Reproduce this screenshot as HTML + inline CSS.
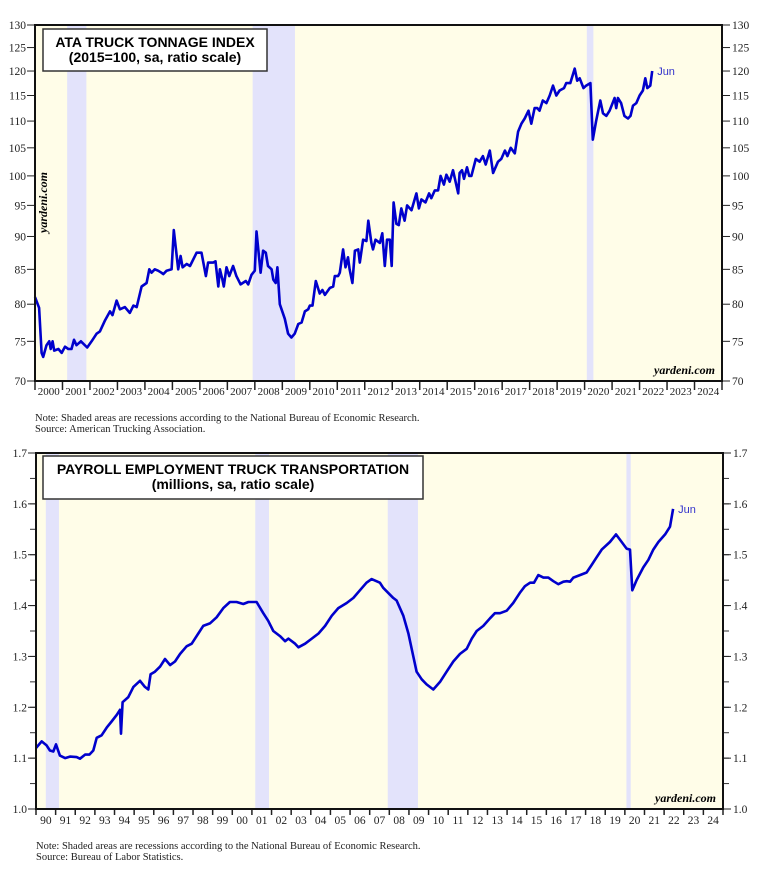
<!DOCTYPE html>
<html><head><meta charset="utf-8">
<style>
body{margin:0;background:#fff;}
svg{display:block;}
text{font-family:"Liberation Serif",serif;}
.ttl{font-family:"Liberation Sans",sans-serif;font-weight:bold;font-size:14px;}
.jun{font-family:"Liberation Sans",sans-serif;}
</style></head>
<body>
<svg id="svg" width="762" height="871" viewBox="0 0 762 871"></svg>
<script>
// ---- ATA truck tonnage (years since 2000, index value)
const ataYears=[0,0.15,0.24,0.3,0.42,0.52,0.57,0.64,0.7,0.85,0.97,1.09,1.21,1.33,1.42,1.51,1.67,1.9,2.06,2.24,2.36,2.55,2.73,2.82,2.97,3.09,3.27,3.45,3.58,3.7,3.88,4.06,4.16,4.24,4.36,4.48,4.6,4.67,4.79,4.97,5.05,5.21,5.3,5.37,5.52,5.64,5.88,6.06,6.22,6.3,6.48,6.57,6.67,6.73,6.82,6.87,6.97,7.07,7.21,7.33,7.48,7.67,7.76,7.88,8.0,8.06,8.21,8.3,8.4,8.48,8.61,8.67,8.76,8.82,8.91,9.09,9.21,9.33,9.45,9.58,9.7,9.82,9.94,10.0,10.1,10.22,10.36,10.46,10.55,10.73,10.85,10.91,11.03,11.09,11.21,11.3,11.39,11.45,11.55,11.64,11.76,11.82,11.94,12.06,12.13,12.24,12.3,12.39,12.55,12.64,12.73,12.81,12.91,12.98,13.05,13.15,13.24,13.33,13.45,13.54,13.7,13.88,13.97,14.06,14.21,14.34,14.42,14.55,14.67,14.76,14.88,14.97,15.09,15.21,15.4,15.45,15.54,15.61,15.72,15.8,15.88,16.04,16.18,16.3,16.4,16.55,16.67,16.85,16.97,17.1,17.19,17.31,17.46,17.58,17.7,17.82,17.96,18.06,18.18,18.28,18.36,18.48,18.61,18.73,18.85,18.97,19.09,19.25,19.33,19.48,19.64,19.73,19.82,19.96,20.06,20.21,20.3,20.42,20.57,20.67,20.79,20.91,21.09,21.15,21.21,21.33,21.45,21.58,21.67,21.76,21.88,22.0,22.12,22.21,22.28,22.39,22.46];
const ataValues=[81,79.5,73.5,73,74.5,75,74,75,73.8,74,73.5,74.3,74,74,75.2,74.5,75,74.2,75,76,76.3,77.8,79,78.5,80.5,79.3,79.6,78.8,79.8,79.6,82.5,83,85,84.5,85,84.8,84.5,84.3,84.8,85,91,85,87,85.3,85.8,85.5,87.5,87.5,84,86,86,86.2,82.5,85,83.5,82.5,85.3,84,85.5,84,82.8,83.3,82.8,84.2,84.8,90.8,84.5,87.8,87.5,85.5,85,83.5,83,85.3,80,78,76,75.5,76,77.3,77.5,79,79.3,79.8,79.8,83.3,81.5,82,81.3,82.3,82.5,84,84,84.5,88,85.3,86.8,85,83,87.8,88,86,89.5,89.3,92.5,89,88,89.5,89,90.5,85.5,89.5,89.5,85.5,95.5,92,91.8,94.5,92.5,95,94.2,97,94.5,96,95.5,97,96.2,97.5,97.5,100,98.5,100.2,99,101,97,100.5,101,99.5,101.5,100,100,103,102.5,103.5,102,104.5,100.5,102.5,103,104.5,103.5,105,104,108,109.5,110.5,112,109.5,112.5,112.5,112,114,113.5,115,117,115,116,116.5,117.5,117.5,120.5,118,118.5,116.5,117,117.5,106.5,110,114,111.5,111,112,114.5,112.5,114.5,113.5,111,110.5,111,113,113.5,115,116,118.5,116.5,117,120];
const ataTicks=[70,75,80,85,90,95,100,105,110,115,120,125,130];
const ataYearLabels=["2000","2001","2002","2003","2004","2005","2006","2007","2008","2009","2010","2011","2012","2013","2014","2015","2016","2017","2018","2019","2020","2021","2022","2023","2024"];
const ataRecessions=[[1.17,1.87],[7.92,9.46],[20.08,20.32]];
// ---- Payroll employment (years since 1990, millions)
const payYears=[0,0.29,0.54,0.71,0.88,1.02,1.22,1.48,1.73,2.07,2.24,2.5,2.72,2.92,3.09,3.34,3.6,3.85,4.11,4.28,4.33,4.41,4.7,4.96,5.3,5.55,5.72,5.84,6.06,6.32,6.57,6.83,7.08,7.34,7.67,7.93,8.27,8.52,8.86,9.2,9.54,9.88,10.22,10.56,10.82,11.24,11.58,11.83,12.09,12.43,12.69,12.86,13.2,13.37,13.71,14.05,14.39,14.73,15.07,15.4,15.83,16.17,16.5,16.84,17.1,17.52,17.69,18.2,18.37,18.71,18.97,19.22,19.39,19.65,19.9,20.24,20.58,20.92,21.26,21.6,21.94,22.2,22.45,22.79,23.13,23.38,23.64,23.98,24.31,24.65,24.91,25.17,25.37,25.59,25.85,26.1,26.36,26.61,26.87,27.04,27.21,27.38,27.71,28.05,28.31,28.56,28.82,29.24,29.55,29.84,30.09,30.26,30.38,30.6,30.94,31.2,31.45,31.71,32.05,32.3,32.46];
const payValues=[1.12,1.133,1.125,1.115,1.113,1.127,1.105,1.1,1.103,1.102,1.099,1.107,1.107,1.115,1.14,1.145,1.16,1.172,1.185,1.195,1.148,1.21,1.22,1.24,1.252,1.24,1.235,1.265,1.27,1.28,1.295,1.283,1.29,1.305,1.32,1.325,1.345,1.36,1.365,1.377,1.395,1.407,1.407,1.403,1.407,1.407,1.385,1.37,1.35,1.34,1.33,1.335,1.325,1.318,1.325,1.335,1.345,1.36,1.38,1.395,1.405,1.415,1.43,1.445,1.452,1.445,1.435,1.415,1.41,1.38,1.345,1.3,1.27,1.255,1.245,1.235,1.25,1.27,1.29,1.305,1.315,1.335,1.35,1.36,1.375,1.385,1.385,1.39,1.405,1.425,1.438,1.445,1.445,1.46,1.455,1.455,1.448,1.442,1.447,1.448,1.447,1.455,1.46,1.465,1.48,1.495,1.51,1.525,1.54,1.525,1.512,1.51,1.43,1.45,1.475,1.49,1.51,1.525,1.54,1.555,1.59];
const payTicks=[1.0,1.1,1.2,1.3,1.4,1.5,1.6,1.7];
const payYearLabels=["90","91","92","93","94","95","96","97","98","99","00","01","02","03","04","05","06","07","08","09","10","11","12","13","14","15","16","17","18","19","20","21","22","23","24"];
const payRecessions=[[0.5,1.17],[11.17,11.87],[17.92,19.46],[30.08,30.3]];

const svg=document.getElementById('svg');
const NS='http://www.w3.org/2000/svg';
function mk(tag,attrs,parent,txt){const e=document.createElementNS(NS,tag);for(const k in attrs)e.setAttribute(k,attrs[k]);if(txt!==undefined)e.textContent=txt;(parent||svg).appendChild(e);return e;}

function chart(cfg){
  const g=mk('g',{});
  
  
  const {L,R,T,B}=cfg;
  const nY=cfg.yearLabels.length, pxy=(R-L)/nY;
  const X=y=>L+y*pxy;
  const Y=cfg.Y;
  const bg=mk('rect',{x:L,y:T,width:R-L,height:B-T,fill:'#fffde8'},g);
  
  
  cfg.recessions.forEach(r=>{
    const e=mk('rect',{x:X(r[0]),y:T,width:X(r[1])-X(r[0]),height:B-T,fill:'#e3e3fb'},g);
    
    
  });
  cfg.minor.forEach(v=>{
    mk('line',{x1:L-6,x2:L,y1:Y(v),y2:Y(v),stroke:'#333','stroke-width':1},g);
    mk('line',{x1:R,x2:R+6,y1:Y(v),y2:Y(v),stroke:'#333','stroke-width':1},g);
  });
  cfg.ticks.forEach(v=>{
    const y=Y(v);
    mk('line',{x1:L-8,x2:L,y1:y,y2:y,stroke:'#222','stroke-width':1},g);
    mk('line',{x1:R,x2:R+8,y1:y,y2:y,stroke:'#222','stroke-width':1},g);
    const lab=cfg.fmt(v);
    const t1=mk('text',{x:L-9,y:y+4,'text-anchor':'end','font-size':11.5,fill:'#222'},g,lab);
    
    
    const t2=mk('text',{x:R+10,y:y+4,'font-size':11.5,fill:'#222'},g,lab);
    
    
  });
  for(let i=0;i<=nY;i++){
    mk('line',{x1:X(i),x2:X(i),y1:B,y2:B+cfg.xtl,stroke:'#222','stroke-width':1.5},g);
  }
  cfg.yearLabels.forEach((s,i)=>{
    const t=mk('text',{x:X(i+0.5),y:cfg.xly,'text-anchor':'middle','font-size':cfg.xfs,fill:'#222'},g,s);
    
    
  });
  const d=cfg.xs.map((x,i)=>(i?'L':'M')+X(x).toFixed(1)+','+Y(cfg.vs[i]).toFixed(1)).join('');
  const p=mk('path',{d:d,fill:'none',stroke:'#0000cc','stroke-width':2.6,'stroke-linejoin':'round'},g);
  
  
  const last=cfg.xs.length-1;
  const j=mk('text',{x:X(cfg.xs[last])+5,y:Y(cfg.vs[last])+4,'font-size':11,fill:'#3333cc',class:'jun'},g,'Jun');
  
  
  const fr=mk('rect',{x:L,y:T,width:R-L,height:B-T,fill:'none',stroke:'#111','stroke-width':2},g);
  
  
  const tb=mk('g',{},g);
  
  
  mk('rect',{x:cfg.tb[0],y:cfg.tb[1],width:cfg.tb[2],height:cfg.tb[3],fill:'#fff',stroke:'#333','stroke-width':1.5},tb);
  const cx=cfg.tb[0]+cfg.tb[2]/2;
  mk('text',{x:cx,y:cfg.tb[1]+18,'text-anchor':'middle',class:'ttl'},tb,cfg.title1);
  mk('text',{x:cx,y:cfg.tb[1]+33,'text-anchor':'middle',class:'ttl'},tb,cfg.title2);
  const yd=mk('text',{x:R-7,y:B-7,'text-anchor':'end','font-size':12,'font-style':'italic','font-weight':'bold'},g,'yardeni.com');
  
  
  const n1=mk('text',{x:L,y:cfg.noteY,'font-size':10.5,fill:'#222'},g,'Note: Shaded areas are recessions according to the National Bureau of Economic Research.');
  
  
  const n2=mk('text',{x:L,y:cfg.noteY+11,'font-size':10.5,fill:'#222'},g,cfg.source);
  
  
  return g;
}

const aT=25,aB=381;
chart({name:'ata-truck-tonnage-chart',L:35,R:722,T:aT,B:aB,
  Y:v=>aB-(Math.log(v/70)/Math.log(130/70))*(aB-aT),
  ticks:ataTicks,minor:[],fmt:v=>String(v),yearLabels:ataYearLabels,recessions:ataRecessions,
  xs:ataYears,vs:ataValues,xtl:9,xly:395,xfs:11,tb:[43,29,224,42],
  title1:'ATA TRUCK TONNAGE INDEX',title2:'(2015=100, sa, ratio scale)',
  noteY:421,source:'Source: American Trucking Association.'});
const vt=mk('text',{transform:'translate(47,233) rotate(-90)','font-size':12,'font-style':'italic','font-weight':'bold'},svg,'yardeni.com');



const pT=453,pB=809;
const payMinor=[];for(let k=0;k<14;k++){payMinor.push(1.05+k*0.05);}
chart({name:'payroll-employment-chart',L:36,R:723,T:pT,B:pB,
  Y:v=>pB-(v-1.0)/0.7*(pB-pT),
  ticks:payTicks,minor:payMinor,fmt:v=>v.toFixed(1),yearLabels:payYearLabels,recessions:payRecessions,
  xs:payYears,vs:payValues,xtl:6,xly:824,xfs:11.5,tb:[43,456,380,43],
  title1:'PAYROLL EMPLOYMENT TRUCK TRANSPORTATION',title2:'(millions, sa, ratio scale)',
  noteY:849,source:'Source: Bureau of Labor Statistics.'});
</script>
</body></html>
